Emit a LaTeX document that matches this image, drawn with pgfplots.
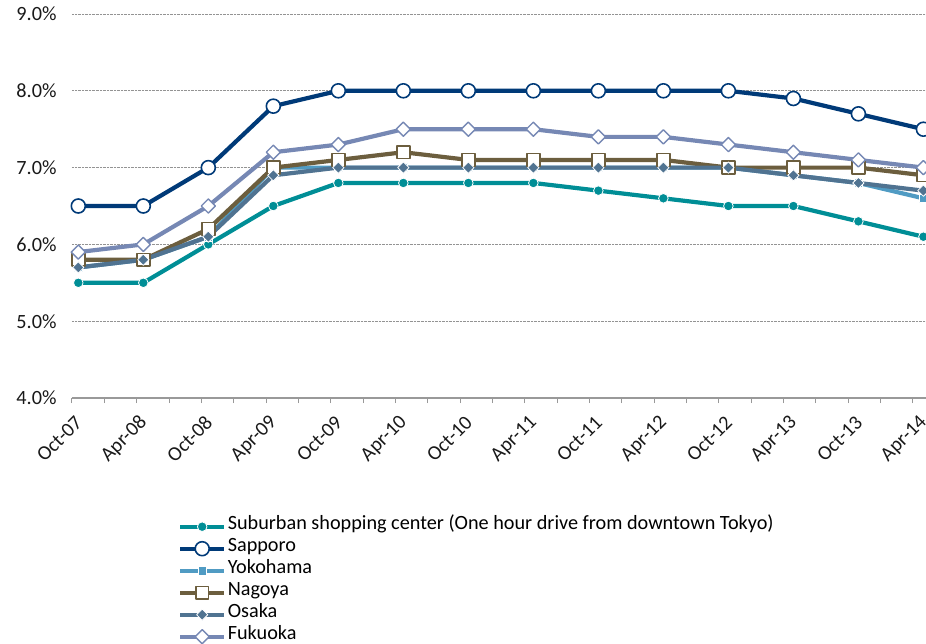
\documentclass[border=0pt]{standalone}
\usepackage{fontspec}
\setmainfont{Carlito}
\usepackage{pgfplots}
\pgfplotsset{compat=1.18}
\definecolor{cSub}{RGB}{0,142,150}
\definecolor{cSap}{RGB}{0,58,120}
\definecolor{cYok}{RGB}{80,155,195}
\definecolor{cNag}{RGB}{108,94,62}
\definecolor{cOsa}{RGB}{80,115,145}
\definecolor{cFuk}{RGB}{118,136,180}
\begin{document}
\begin{tikzpicture}
\begin{axis}[
  width=854bp, height=384bp, scale only axis,
  xmin=-0.097, xmax=13.04, ymin=4, ymax=9,
  clip=false,
  separate axis lines,
  axis x line*=bottom, axis y line*=left,
  x axis line style={draw=gray!80, line width=1.4bp, -},
  y axis line style={draw=none},
  xtick={0,...,13},
  xticklabels={Oct-07,Apr-08,Oct-08,Apr-09,Oct-09,Apr-10,Oct-10,Apr-11,Oct-11,Apr-12,Oct-12,Apr-13,Oct-13,Apr-14},
  minor xtick={-0.097,0.4005,...,12.95},
  tick align=outside,
  major tick length=0bp, minor tick length=5bp,
  x tick style={draw=gray!80, line width=1bp},
  ytick={4,5,6,7,8,9},
  yticklabels={4.0\%,5.0\%,6.0\%,7.0\%,8.0\%,9.0\%},
  y tick style={draw=none},
  ymajorgrids,
  grid style={densely dotted, gray!85, line width=1bp},
  ticklabel style={font=\fontsize{20.3}{22}\selectfont, text=black!90},
  yticklabel style={anchor=east, xshift=-12bp},
  xticklabel style={xshift=3bp, yshift=-19bp, rotate=45, anchor=east},
  legend style={at={(0.124,-0.306)}, anchor=north west, draw=none, fill=none,
    font=\fontsize{20.3}{22}\selectfont, inner sep=0pt, row sep=0pt,
    nodes={inner ysep=0pt, inner xsep=1.5bp, text height=14bp, text depth=8bp},
    cells={anchor=west}},
  legend image code/.code={\draw[mark repeat=2,mark phase=2,#1] plot coordinates {(0bp,0bp) (22bp,0bp) (44bp,0bp)};},
  every axis plot/.append style={line width=4.2bp, line join=round},
]
\addplot[cSub, mark=*, mark size=4.8bp, mark options={fill=cSub, draw=white, line width=0.8bp}] coordinates {
(0,5.5)(1,5.5)(2,6.0)(3,6.5)(4,6.8)(5,6.8)(6,6.8)(7,6.8)(8,6.7)(9,6.6)(10,6.5)(11,6.5)(12,6.3)(13,6.1)};
\addlegendentry{Suburban shopping center (One hour drive from downtown Tokyo)}
\addplot[cSap, mark=*, mark size=7bp, mark options={fill=white, draw=cSap, line width=1.6bp}] coordinates {
(0,6.5)(1,6.5)(2,7.0)(3,7.8)(4,8.0)(5,8.0)(6,8.0)(7,8.0)(8,8.0)(9,8.0)(10,8.0)(11,7.9)(12,7.7)(13,7.5)};
\addlegendentry{Sapporo}
\addplot[cYok, mark=square*, mark size=4.2bp, mark options={fill=cYok, draw=white, line width=0.8bp}] coordinates {
(0,5.7)(1,5.8)(2,6.1)(3,7.0)(4,7.0)(5,7.0)(6,7.0)(7,7.0)(8,7.0)(9,7.0)(10,7.0)(11,6.9)(12,6.8)(13,6.6)};
\addlegendentry{Yokohama}
\addplot[cNag, mark=square*, mark size=6.4bp, mark options={fill=white, draw=cNag, line width=1.6bp}] coordinates {
(0,5.8)(1,5.8)(2,6.2)(3,7.0)(4,7.1)(5,7.2)(6,7.1)(7,7.1)(8,7.1)(9,7.1)(10,7.0)(11,7.0)(12,7.0)(13,6.9)};
\addlegendentry{Nagoya}
\addplot[cOsa, mark=square*, mark size=4.0bp, mark options={rotate=45, fill=cOsa, draw=white, line width=0.8bp}] coordinates {
(0,5.7)(1,5.8)(2,6.1)(3,6.9)(4,7.0)(5,7.0)(6,7.0)(7,7.0)(8,7.0)(9,7.0)(10,7.0)(11,6.9)(12,6.8)(13,6.7)};
\addlegendentry{Osaka}
\addplot[cFuk, mark=square*, mark size=5bp, mark options={rotate=45, fill=white, draw=cFuk, line width=1.4bp}] coordinates {
(0,5.9)(1,6.0)(2,6.5)(3,7.2)(4,7.3)(5,7.5)(6,7.5)(7,7.5)(8,7.4)(9,7.4)(10,7.3)(11,7.2)(12,7.1)(13,7.0)};
\addlegendentry{Fukuoka}
\end{axis}
\pgfresetboundingbox
\useasboundingbox (-72bp,-246bp) rectangle (854bp,398bp);
\end{tikzpicture}
\end{document}
